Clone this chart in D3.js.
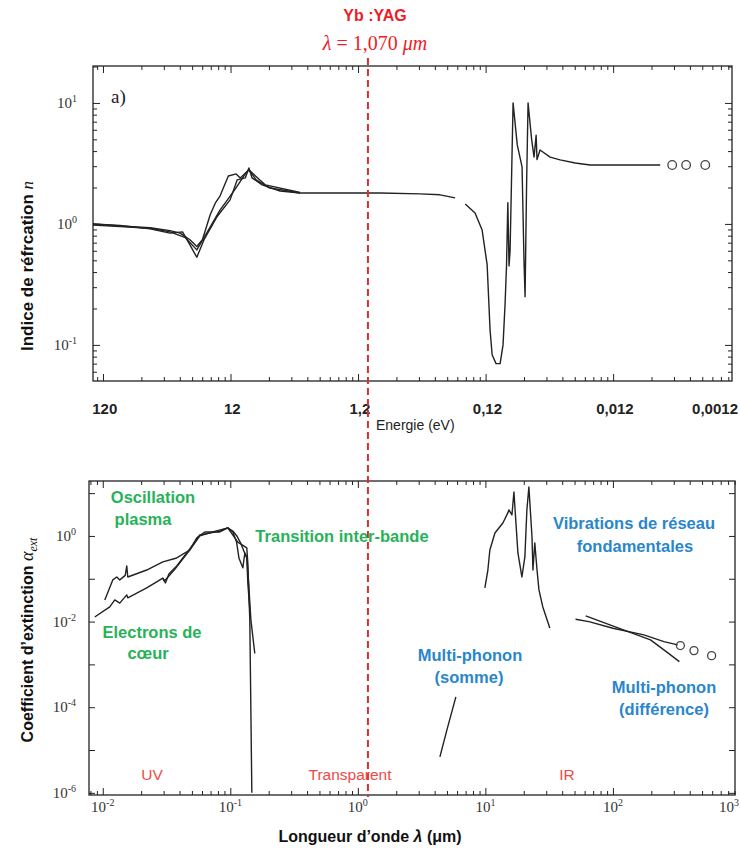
<!DOCTYPE html>
<html><head><meta charset="utf-8">
<script src="https://cdn.jsdelivr.net/npm/d3@7"></script>
<style>body{margin:0;background:#fff} svg{display:block;font-family:"Liberation Sans",Arial,sans-serif}</style>
</head><body>
<svg id="c" width="740" height="856"></svg>
<script>
// ---------------- DATA ----------------
const energyTicks = [120, 12, 1.2, 0.12, 0.012, 0.0012];
const energyTickLabels = ["120", "12", "1,2", "0,12", "0,012", "0,0012"];
const nTickExps = [-1, 0, 1];
const wavelengthTickExps = [-2, -1, 0, 1, 2, 3];
const alphaTickExps = [0, -2, -4, -6];
const laserLabel = "1,070";          // µm, as written in the title
const laserLinePosition = 1.2;       // µm, where the dashed marker is drawn in the figure

// Refractive index n vs energy (eV) – three UV traces
const nUV1 = [[148.5,1.0],[91,0.96],[53,0.93],[37,0.88],[30.8,0.84],[25.8,0.74],[22.8,0.65],[20.6,0.74],[17.9,1.19],[16.3,1.49],[15.0,1.70],[12.9,2.49],[11.2,2.59],[10.4,2.40],[8.9,2.80],[7.8,2.31],[6.1,1.98],[3.53,1.80]];
const nUV2 = [[148.5,1.0],[91,0.97],[53,0.91],[37,0.84],[29.5,0.86],[25.8,0.67],[22.8,0.53],[20.0,0.74],[15.9,1.14],[12.5,1.58],[11.0,2.31],[9.5,2.40],[8.9,2.90],[8.4,2.40],[7.0,2.10],[5.07,1.87],[3.53,1.80]];
const nUV3 = [[148.5,0.98],[91,0.95],[53,0.92],[37,0.86],[28.0,0.77],[22.8,0.61],[20.0,0.77],[15.0,1.30],[11.5,1.91],[9.5,2.59],[8.9,2.80],[7.9,2.49],[6.6,2.10],[3.53,1.82]];
// visible / near-IR transparent branch
const nVis = [[3.53,1.80],[1.72,1.80],[0.833,1.80],[0.405,1.77],[0.282,1.74],[0.215,1.64]];
// IR phonon branch
const nIR = [[0.179,1.46],[0.150,1.23],[0.132,0.89],[0.1206,0.46],[0.1144,0.133],[0.1102,0.083],[0.1027,0.070],[0.0954,0.070],[0.0905,0.10],[0.0872,0.22],[0.0850,0.45],[0.0830,1.5],[0.0812,0.45],[0.0797,0.6],[0.0755,10.0],[0.0700,4.5],[0.0642,2.96],[0.0620,0.5],[0.0608,0.25],[0.0592,2.0],[0.0576,10.0],[0.0540,5.0],[0.0517,3.57],[0.0498,5.4],[0.0490,3.4],[0.0464,4.08],[0.0387,3.57],[0.0323,3.38],[0.0246,3.19],[0.0188,3.07],[0.0109,3.07],[0.0053,3.07]];
const nPoints = [[0.00427,3.07],[0.00332,3.07],[0.00235,3.07]];

// Extinction coefficient vs wavelength (µm)
const aUV1 = [[0.01037,0.032],[0.01198,0.094],[0.01288,0.11],[0.0136,0.094],[0.0150,0.12],[0.01542,0.20],[0.01571,0.11],[0.0221,0.16],[0.0296,0.247],[0.038,0.306],[0.0481,0.47],[0.0546,0.90],[0.0631,1.24],[0.0827,1.24],[0.0955,1.54],[0.1046,1.24],[0.112,0.72],[0.117,0.30],[0.1254,0.18],[0.130,0.40],[0.135,0.32],[0.140,0.06],[0.145,0.011],[0.1556,0.0018]];
const aUV2 = [[0.00865,0.0128],[0.01135,0.022],[0.01242,0.032],[0.01359,0.027],[0.01542,0.042],[0.01571,0.036],[0.0221,0.061],[0.0296,0.104],[0.0306,0.09],[0.038,0.189],[0.0481,0.47],[0.0577,1.0],[0.0729,1.24],[0.0955,1.54],[0.1145,0.72],[0.1347,0.525],[0.1372,0.234],[0.1422,0.011],[0.1475,1e-6]];
const aUV3 = [[0.0296,0.10],[0.031,0.08],[0.033,0.13],[0.038,0.20],[0.0481,0.50],[0.0577,1.05],[0.0827,1.30],[0.0955,1.54],[0.1046,1.30],[0.1125,1.0],[0.12,0.70],[0.1347,0.30],[0.1372,0.08],[0.142,0.02]];
const aSum = [[4.40,6.9e-6],[5.0,3.0e-5],[5.87,1.74e-4]];
const aFund = [[9.91,0.061],[10.46,0.16],[10.84,0.471],[11.88,1.175],[13.71,2.01],[15.0,3.45],[15.28,4.05],[16.15,3.09],[16.74,10.6],[17.99,0.401],[19.33,0.11],[20.4,0.323],[21.15,4.05],[21.93,13.9],[23.2,0.947],[23.6,0.16],[24.4,0.687],[25.4,0.16],[26.3,0.055],[28.2,0.022],[32.0,0.0071]];
const aDiff1 = [[50.9,0.01135],[64.8,0.00998],[100,0.0070],[175,0.00489],[251,0.0034],[322,0.00285]];
const aDiff2 = [[61.2,0.01355],[94.7,0.00836],[197,0.00373],[251,0.00218],[332,0.00116]];
const aPoints = [[338,0.00275],[432,0.0021],[594,0.0016]];

// ---------------- CHART ----------------
const svg = d3.select("#c");
const T = {l:93, r:732, t:66, b:381};
const B = {l:89, r:735, t:481, b:795};

const xTop = d3.scaleLog().domain([148.5, 0.00145]).range([T.l, T.r]);
const yTop = d3.scaleLog().domain([0.0503, 20.2]).range([T.b, T.t]);
const xBot = d3.scaleLog().domain([0.0078, 906]).range([B.l, B.r]);
const yBot = d3.scaleLog().domain([8.9e-7, 19.2]).range([B.b, B.t]);

const ink = "#222";

function inDom(s, v){ const d = s.domain(); const lo=Math.min(d[0],d[1]), hi=Math.max(d[0],d[1]); return v>=lo && v<=hi; }
function logValues(s, major){
  const out=[];
  for(let k=-8;k<=4;k++) for(let m=1;m<=9;m++){
    if(major && m!==1) continue; if(!major && m===1) continue;
    const v=m*Math.pow(10,k); if(inDom(s,v)) out.push(v);
  }
  return out;
}
function ticks(axisFn, scale, values, size, tr){
  const g = svg.append("g").attr("transform", tr).call(axisFn(scale).tickValues(values).tickSize(size).tickFormat(""));
  g.select(".domain").remove();
  g.selectAll("line").attr("stroke", ink).attr("stroke-width", 1);
}

// ---- frames
[T,B].forEach(P => svg.append("rect").attr("x",P.l).attr("y",P.t).attr("width",P.r-P.l).attr("height",P.b-P.t)
  .attr("fill","none").attr("stroke",ink).attr("stroke-width",1.3));

// ---- top panel ticks
const eMajor = d3.range(-4,3).map(k=>1.24*Math.pow(10,-k)).filter(v=>inDom(xTop,v));
const eMinor = []; d3.range(-4,3).forEach(k=>{ for(let m=2;m<=9;m++){ const v=1.24/(m*Math.pow(10,k)); if(inDom(xTop,v)) eMinor.push(v);} });
ticks(d3.axisBottom, xTop, eMajor, -7, `translate(0,${T.b})`);
ticks(d3.axisBottom, xTop, eMinor, -4, `translate(0,${T.b})`);
ticks(d3.axisTop, xTop, eMajor, -7, `translate(0,${T.t})`);
ticks(d3.axisTop, xTop, eMinor, -4, `translate(0,${T.t})`);
ticks(d3.axisLeft, yTop, logValues(yTop,true), -7, `translate(${T.l},0)`);
ticks(d3.axisLeft, yTop, logValues(yTop,false), -4, `translate(${T.l},0)`);
ticks(d3.axisRight, yTop, logValues(yTop,true), -7, `translate(${T.r},0)`);
ticks(d3.axisRight, yTop, logValues(yTop,false), -4, `translate(${T.r},0)`);

// ---- bottom panel ticks
ticks(d3.axisBottom, xBot, logValues(xBot,true), -7, `translate(0,${B.b})`);
ticks(d3.axisBottom, xBot, logValues(xBot,false), -4, `translate(0,${B.b})`);
ticks(d3.axisTop, xBot, logValues(xBot,true), -7, `translate(0,${B.t})`);
ticks(d3.axisTop, xBot, logValues(xBot,false), -4, `translate(0,${B.t})`);
ticks(d3.axisLeft, yBot, logValues(yBot,true), -6, `translate(${B.l},0)`);
ticks(d3.axisRight, yBot, logValues(yBot,true), -6, `translate(${B.r},0)`);

// ---- tick labels
function pow10(x, y, exp, anchor){
  const t = svg.append("text").attr("x",x).attr("y",y).attr("text-anchor",anchor)
    .attr("font-family","'Liberation Serif','Times New Roman',serif").attr("font-size",15).attr("fill","#333");
  t.append("tspan").text("10");
  t.append("tspan").attr("dy",-6).attr("font-size",10).text(exp);
}
nTickExps.forEach(e => pow10(T.l-16, yTop(Math.pow(10,e))+5, e, "end"));
alphaTickExps.forEach(e => pow10(B.l-13, yBot(Math.pow(10,e))+5, e, "end"));
wavelengthTickExps.forEach(e => {
  const x = xBot(Math.pow(10,e));
  // the last label sits on the right edge of the figure; keep it readable inside the page
  pow10(Math.min(x, 739), 812, e, x > 730 ? "end" : "middle");
});

energyTicks.forEach((v,i) => {
  const x = xTop(v);
  const over = x > 736;
  svg.append("text").attr("x", over ? 738 : x).attr("y", 414)
    .attr("text-anchor", over ? "end" : "middle")
    .attr("font-family","'Liberation Sans Narrow','Liberation Sans',Arial,sans-serif")
    .attr("font-weight","bold").attr("font-size",15).attr("fill","#222")
    .text(energyTickLabels[i]);
});

// ---- curves
const lineTop = d3.line().x(d=>xTop(d[0])).y(d=>yTop(d[1]));
const lineBot = d3.line().x(d=>xBot(d[0])).y(d=>yBot(d[1]));
[nUV1,nUV2,nUV3,nVis,nIR].forEach(s => svg.append("path").attr("d",lineTop(s)).attr("fill","none")
  .attr("stroke",ink).attr("stroke-width",1.4).attr("stroke-linejoin","round"));
svg.selectAll("circle.np").data(nPoints).enter().append("circle")
  .attr("cx",d=>xTop(d[0])).attr("cy",d=>yTop(d[1])).attr("r",4.3)
  .attr("fill","none").attr("stroke","#444").attr("stroke-width",1.3);

[aUV1,aUV2,aUV3,aSum,aFund,aDiff1,aDiff2].forEach(s => svg.append("path").attr("d",lineBot(s)).attr("fill","none")
  .attr("stroke",ink).attr("stroke-width",1.4).attr("stroke-linejoin","round"));
svg.selectAll("circle.ap").data(aPoints).enter().append("circle")
  .attr("cx",d=>xBot(d[0])).attr("cy",d=>yBot(d[1])).attr("r",4)
  .attr("fill","none").attr("stroke","#444").attr("stroke-width",1.3);

// ---- "a)" label
svg.append("text").attr("x",111).attr("y",103).attr("font-family","'Liberation Serif',serif")
  .attr("font-size",19).attr("fill","#222").text("a)");

// ---- laser line
const xl = xBot(laserLinePosition);
svg.append("line").attr("x1",xl).attr("x2",xl).attr("y1",58).attr("y2",797)
  .attr("stroke","#d83030").attr("stroke-width",2).attr("stroke-dasharray","7,4");

// ---- titles
svg.append("text").attr("x",375).attr("y",21).attr("text-anchor","middle").attr("font-weight","bold")
  .attr("font-size",16).attr("fill","#ee1c25").text("Yb :YAG");
const lt = svg.append("text").attr("x",375).attr("y",50).attr("text-anchor","middle")
  .attr("font-family","'Liberation Serif','DejaVu Serif',serif").attr("font-size",20).attr("fill","#ee1c25");
lt.append("tspan").attr("font-style","italic").text("λ");
lt.append("tspan").text(" = " + laserLabel + " ");
lt.append("tspan").attr("font-style","italic").text("μm");

svg.append("text").attr("x",376).attr("y",430).attr("font-size",14).attr("fill","#222").text("Energie (eV)");

const bx = svg.append("text").attr("x",370).attr("y",842).attr("text-anchor","middle")
  .attr("font-weight","bold").attr("font-size",16).attr("fill","#111");
bx.append("tspan").text("Longueur d’onde ");
bx.append("tspan").attr("font-style","italic").text("λ");
bx.append("tspan").text(" (μm)");

const ly1 = svg.append("text").attr("transform","translate(33,266) rotate(-90)").attr("text-anchor","middle")
  .attr("font-weight","bold").attr("font-size",17).attr("fill","#111");
ly1.append("tspan").text("Indice de réfrcation ");
ly1.append("tspan").attr("font-family","'Liberation Serif',serif").attr("font-style","italic").attr("font-weight","normal").text("n");

const ly2 = svg.append("text").attr("transform","translate(33,640) rotate(-90)").attr("text-anchor","middle")
  .attr("font-weight","bold").attr("font-size",16).attr("fill","#111");
ly2.append("tspan").text("Coefficient d’extinction ");
ly2.append("tspan").attr("font-family","'Liberation Serif',serif").attr("font-style","italic").attr("font-weight","normal").attr("font-size",18).text("α");
ly2.append("tspan").attr("font-family","'Liberation Serif',serif").attr("font-style","italic").attr("font-weight","normal").attr("font-size",12).attr("dy",4).text("ext");

// ---- annotations
const green = "#27b259", blue = "#2a86cc", red = "#f04848";
const notes = [
  ["Oscillation",153,503,green],["plasma",143,525,green],
  ["Transition inter-bande",342,542,green],
  ["Electrons de",152,638,green],["cœur",148,659,green],
  ["Vibrations de réseau",634,529,blue],["fondamentales",635,552,blue],
  ["Multi-phonon",470,661,blue],["(somme)",469,683,blue],
  ["Multi-phonon",664,693,blue],["(différence)",664,715,blue]
];
notes.forEach(n => svg.append("text").attr("x",n[1]).attr("y",n[2]).attr("text-anchor","middle")
  .attr("font-weight","bold").attr("font-size",16.5).attr("fill",n[3]).text(n[0]));
[["UV",152],["Transparent",350],["IR",567]].forEach(n => svg.append("text").attr("x",n[1]).attr("y",780)
  .attr("text-anchor","middle").attr("font-size",15.5).attr("fill",red).text(n[0]));
</script>
</body></html>
